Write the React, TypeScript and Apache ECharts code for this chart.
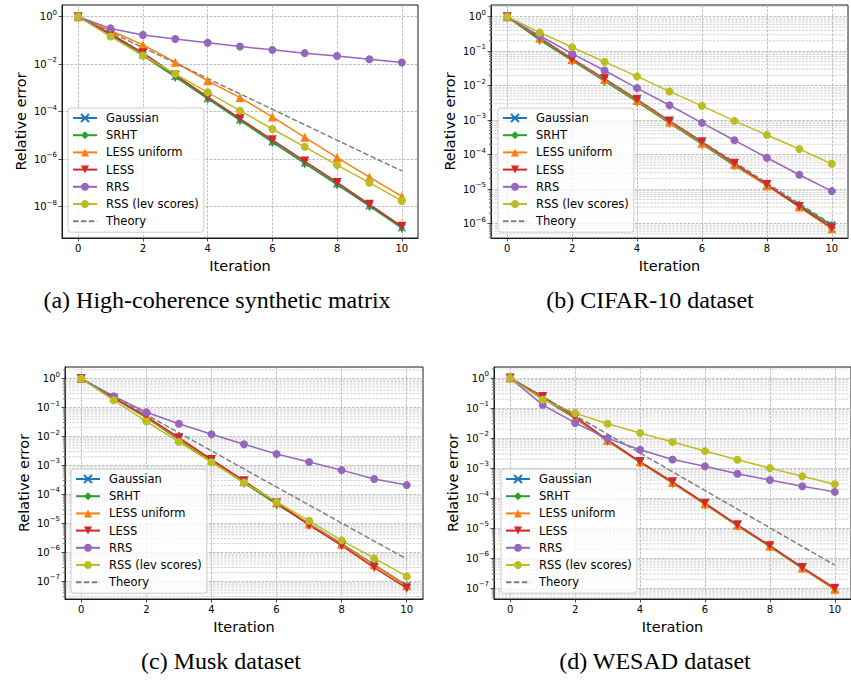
import React, { useEffect, useRef } from 'react';
import * as echarts from 'echarts';

// ---------------- data ----------------
const iterations = [0, 1, 2, 3, 4, 5, 6, 7, 8, 9, 10];
const methodNames = ['Gaussian', 'SRHT', 'LESS uniform', 'LESS', 'RRS', 'RSS (lev scores)', 'Theory'];
const panelCaptions = [
  '(a) High-coherence synthetic matrix',
  '(b) CIFAR-10 dataset',
  '(c) Musk dataset',
  '(d) WESAD dataset',
];
const xTickValues = [0, 2, 4, 6, 8, 10];

// (a) High-coherence synthetic matrix
const aGaussian = [1, 0.18, 0.024, 3.0e-3, 3.6e-4, 4.4e-5, 5.4e-6, 6.8e-7, 8.9e-8, 1.1e-8, 1.3e-9];
const aSRHT = [1, 0.18, 0.023, 2.9e-3, 3.5e-4, 4.3e-5, 5.2e-6, 6.6e-7, 8.5e-8, 1.05e-8, 1.25e-9];
const aLessUniform = [1, 0.26, 0.065, 0.012, 2.0e-3, 3.9e-4, 6.0e-5, 8.3e-6, 1.17e-6, 1.74e-7, 2.7e-8];
const aLess = [1, 0.19, 0.03, 3.5e-3, 4.2e-4, 5.1e-5, 6.5e-6, 8.3e-7, 1.05e-7, 1.26e-8, 1.48e-9];
const aRRS = [1, 0.32, 0.17, 0.115, 0.079, 0.055, 0.04, 0.029, 0.022, 0.016, 0.0117];
const aRSS = [1, 0.145, 0.023, 3.9e-3, 6.5e-4, 1.1e-4, 1.86e-5, 3.3e-6, 5.6e-7, 1.02e-7, 1.74e-8];
const aTheory = [1, 0.224, 0.05, 0.0112, 2.5e-3, 5.6e-4, 1.26e-4, 2.8e-5, 6.3e-6, 1.41e-6, 3.2e-7];

// (b) CIFAR-10
const bGaussian = [1, 0.23, 0.056, 0.0145, 3.6e-3, 8.6e-4, 2.1e-4, 5.1e-5, 1.3e-5, 3.3e-6, 9.0e-7];
const bSRHT = [1, 0.21, 0.053, 0.0135, 3.4e-3, 8.2e-4, 2.0e-4, 4.8e-5, 1.3e-5, 3.4e-6, 8.8e-7];
const bLessUniform = [1, 0.24, 0.057, 0.015, 3.7e-3, 8.8e-4, 2.15e-4, 5.2e-5, 1.25e-5, 3.0e-6, 7.0e-7];
const bLess = [1, 0.245, 0.059, 0.016, 4.0e-3, 9.5e-4, 2.35e-4, 5.6e-5, 1.35e-5, 3.1e-6, 7.6e-7];
const bRRS = [1, 0.28, 0.085, 0.0275, 8.5e-3, 2.7e-3, 8.3e-4, 2.6e-4, 8.1e-5, 2.6e-5, 8.7e-6];
const bRSS = [1, 0.35, 0.13, 0.049, 0.0186, 6.8e-3, 2.6e-3, 9.5e-4, 3.7e-4, 1.45e-4, 5.4e-5];
const bTheory = [1, 0.25, 0.0625, 0.0156, 3.9e-3, 9.8e-4, 2.4e-4, 6.1e-5, 1.5e-5, 3.8e-6, 9.5e-7];

// (c) Musk
const cGaussian = [1, 0.22, 0.046, 8.0e-3, 1.45e-3, 2.6e-4, 4.8e-5, 9.8e-6, 2.0e-6, 3.8e-7, 7.2e-8];
const cSRHT = [1, 0.21, 0.045, 7.8e-3, 1.4e-3, 2.5e-4, 4.6e-5, 9.2e-6, 1.9e-6, 3.6e-7, 6.8e-8];
const cLessUniform = [1, 0.22, 0.048, 8.5e-3, 1.5e-3, 2.9e-4, 5.2e-5, 9.5e-6, 1.9e-6, 3.7e-7, 7.0e-8];
const cLess = [1, 0.21, 0.05, 9.1e-3, 1.62e-3, 2.95e-4, 5.2e-5, 8.7e-6, 1.7e-6, 3.0e-7, 5.8e-8];
const cRRS = [1, 0.245, 0.069, 0.0275, 0.012, 5.4e-3, 2.5e-3, 1.32e-3, 6.9e-4, 3.4e-4, 2.1e-4];
const cRSS = [1, 0.178, 0.033, 6.5e-3, 1.29e-3, 2.6e-4, 5.5e-5, 1.23e-5, 2.6e-6, 6.3e-7, 1.48e-7];
const cTheory = [1, 0.238, 0.0567, 0.0135, 3.2e-3, 7.6e-4, 1.8e-4, 4.3e-5, 1.03e-5, 2.45e-6, 5.9e-7];

// (d) WESAD
const dGaussian = [1, 0.22, 0.047, 8.2e-3, 1.6e-3, 3.3e-4, 6.5e-5, 1.25e-5, 2.5e-6, 4.7e-7, 9.4e-8];
const dSRHT = [1, 0.21, 0.046, 8.0e-3, 1.55e-3, 3.2e-4, 6.2e-5, 1.2e-5, 2.4e-6, 4.6e-7, 9.0e-8];
const dLessUniform = [1, 0.23, 0.048, 8.3e-3, 1.6e-3, 3.3e-4, 6.4e-5, 1.25e-5, 2.5e-6, 4.7e-7, 9.2e-8];
const dLess = [1, 0.245, 0.052, 8.7e-3, 1.66e-3, 3.5e-4, 6.8e-5, 1.29e-5, 2.6e-6, 4.9e-7, 1.0e-7];
const dRRS = [1, 0.129, 0.032, 9.8e-3, 4.1e-3, 1.95e-3, 1.15e-3, 6.5e-4, 4.0e-4, 2.5e-4, 1.62e-4];
const dRSS = [1, 0.19, 0.068, 0.03, 0.0148, 7.4e-3, 3.7e-3, 1.9e-3, 1.0e-3, 5.4e-4, 2.9e-4];
const dTheory = [1, 0.238, 0.0567, 0.0135, 3.2e-3, 7.6e-4, 1.8e-4, 4.3e-5, 1.03e-5, 2.45e-6, 5.9e-7];

// y-axis ranges (log10 of relative error) and major tick exponents
const yRangeA = [-9.32, 0.49];
const yRangeB = [-6.42, 0.34];
const yRangeC = [-7.61, 0.4];
const yRangeD = [-7.36, 0.37];
const yTicksA = [-8, -6, -4, -2, 0];
const yTicksB = [-6, -5, -4, -3, -2, -1, 0];
const yTicksC = [-7, -6, -5, -4, -3, -2, -1, 0];
const yTicksD = [-7, -6, -5, -4, -3, -2, -1, 0];

// ---------------- styling ----------------
const methodColors = ['#1f77b4', '#2ca02c', '#ff7f0e', '#d62728', '#9467bd', '#bcbd22', '#808080'];
const methodSymbols = ['path://M0,0L10,10M0,10L10,0', 'diamond', 'triangle', 'triangle', 'circle', 'circle', 'none'];
const methodSymbolSizes: any[] = [7, [6, 10], 9, 9, 8, 8, 0];
const methodSymbolRotate = [0, 0, 0, 180, 0, 0, 0];

const gridRects = [
  { left: 62, top: 5, width: 356, height: 233 },
  { left: 491, top: 5, width: 357, height: 233 },
  { left: 65, top: 367, width: 358, height: 232 },
  { left: 494, top: 367, width: 358, height: 232 },
];
const legendPos = [
  { left: 68, top: 108 },
  { left: 498, top: 108 },
  { left: 71, top: 469 },
  { left: 501, top: 469 },
];
const captionPos = [
  { x: 217, y: 300 },
  { x: 650, y: 300 },
  { x: 221, y: 661 },
  { x: 655, y: 661 },
];

const X_MIN = -0.5;
const X_MAX = 10.5;

function logLabel(v: number): string {
  const r = Math.round(v);
  if (Math.abs(v - r) > 1e-6) return '';
  const exp = r < 0 ? '\u2212' + String(-r) : String(r);
  return '{b|10}{s|' + exp + '}';
}

function buildOption() {
  const panels = [
    { series: [aGaussian, aSRHT, aLessUniform, aLess, aRRS, aRSS, aTheory], range: yRangeA, ticks: yTicksA, step: 2, minor: false },
    { series: [bGaussian, bSRHT, bLessUniform, bLess, bRRS, bRSS, bTheory], range: yRangeB, ticks: yTicksB, step: 1, minor: true },
    { series: [cGaussian, cSRHT, cLessUniform, cLess, cRRS, cRSS, cTheory], range: yRangeC, ticks: yTicksC, step: 1, minor: true },
    { series: [dGaussian, dSRHT, dLessUniform, dLess, dRRS, dRSS, dTheory], range: yRangeD, ticks: yTicksD, step: 1, minor: true },
  ];

  const grid: any[] = [];
  const xAxis: any[] = [];
  const yAxis: any[] = [];
  const series: any[] = [];
  const legend: any[] = [];
  const graphic: any[] = [];

  const font = 'DejaVu Sans';
  const tickColor = '#222';
  const gridLine = { show: true, lineStyle: { color: '#b0b0b0', width: 0.8, type: [2.8, 1.3] } };

  panels.forEach((p, i) => {
    grid.push({
      ...gridRects[i],
      show: true,
      borderColor: '#1a1a1a',
      borderWidth: 1,
      backgroundColor: 'transparent',
      containLabel: false,
    });
    xAxis.push({
      type: 'value',
      gridIndex: i,
      min: X_MIN,
      max: X_MAX,
      minInterval: 2,
      maxInterval: 2,
      name: 'Iteration',
      nameLocation: 'middle',
      nameGap: 20,
      nameTextStyle: { fontFamily: font, fontSize: 14.5, color: '#000' },
      axisLine: { show: true, onZero: false, lineStyle: { color: '#1a1a1a', width: 1 } },
      axisTick: { show: true, length: 3.5, customValues: xTickValues, lineStyle: { color: tickColor, width: 0.8 } },
      axisLabel: {
        show: true,
        customValues: xTickValues,
        margin: 5,
        fontFamily: font,
        fontSize: 10,
        color: '#000',
        formatter: (v: number) => (Math.abs(v - Math.round(v)) < 1e-6 ? String(Math.round(v)) : ''),
      },
      splitLine: gridLine,
    });
    yAxis.push({
      type: 'value',
      gridIndex: i,
      min: p.range[0],
      max: p.range[1],
      minInterval: p.step,
      maxInterval: p.step,
      name: 'Relative error',
      nameLocation: 'middle',
      nameGap: 34,
      nameTextStyle: { fontFamily: font, fontSize: 14.5, color: '#000' },
      axisLine: { show: true, onZero: false, lineStyle: { color: '#1a1a1a', width: 1 } },
      axisTick: { show: true, length: 3.5, customValues: p.ticks, lineStyle: { color: tickColor, width: 0.8 } },
      axisLabel: {
        show: true,
        customValues: p.ticks,
        margin: 5,
        fontFamily: font,
        color: '#000',
        formatter: logLabel,
        rich: {
          b: { fontFamily: font, fontSize: 10, lineHeight: 15, color: '#000' },
          s: { fontFamily: font, fontSize: 7, lineHeight: 8, verticalAlign: 'top', color: '#000' },
        },
      },
      splitLine: gridLine,
    });

    if (p.minor) {
      const minorVals: number[][] = [];
      for (let e = Math.floor(p.range[0]); e <= Math.ceil(p.range[1]); e++) {
        for (let k = 2; k <= 9; k++) {
          const lv = e + Math.log10(k);
          if (lv > p.range[0] && lv < p.range[1]) minorVals.push([X_MIN, lv]);
        }
      }
      series.push({
        type: 'custom',
        xAxisIndex: i,
        yAxisIndex: i,
        silent: true,
        clip: false,
        z: 1,
        data: minorVals,
        renderItem: (params: any, api: any) => {
          const y = api.value(1);
          const a = api.coord([X_MIN, y]);
          const b = api.coord([X_MAX, y]);
          return {
            type: 'group',
            children: [
              {
                type: 'line',
                shape: { x1: a[0], y1: a[1], x2: b[0], y2: b[1] },
                style: { stroke: '#bdbdbd', lineWidth: 0.7, lineDash: [2.5, 1.2] },
              },
              {
                type: 'line',
                shape: { x1: a[0] - 2.2, y1: a[1], x2: a[0], y2: a[1] },
                style: { stroke: tickColor, lineWidth: 0.6 },
              },
            ],
          };
        },
      });
    }

    p.series.forEach((vals, m) => {
      const color = methodColors[m];
      const isTheory = m === 6;
      series.push({
        type: 'line',
        name: methodNames[m],
        xAxisIndex: i,
        yAxisIndex: i,
        data: iterations.map((it, j) => [it, Math.log10(vals[j])]),
        symbol: methodSymbols[m],
        symbolSize: methodSymbolSizes[m],
        symbolRotate: methodSymbolRotate[m],
        showSymbol: !isTheory,
        lineStyle: {
          color,
          width: 1.5,
          type: isTheory ? [5.5, 2.4] : 'solid',
        },
        itemStyle: isTheory
          ? { color: 'rgba(0,0,0,0)', borderWidth: 0 }
          : { color, borderColor: color, borderWidth: m === 0 ? 1.4 : 0 },
        emphasis: { disabled: true },
        silent: true,
        z: 3,
      });
    });

    legend.push({
      orient: 'vertical',
      left: legendPos[i].left,
      top: legendPos[i].top,
      data: methodNames,
      itemWidth: 24,
      itemHeight: 10,
      itemGap: 3.2,
      padding: [3, 5, 4, 4],
      backgroundColor: 'rgba(255,255,255,0.8)',
      borderColor: '#cccccc',
      borderWidth: 1,
      borderRadius: 3,
      selectedMode: false,
      textStyle: { fontFamily: font, fontSize: 11.5, color: '#000', lineHeight: 14, padding: [0, 0, 0, 4] },
      z: 10,
    });

    graphic.push({
      type: 'text',
      x: captionPos[i].x,
      y: captionPos[i].y,
      style: {
        text: panelCaptions[i],
        fontFamily: 'Liberation Serif',
        fontSize: 24,
        fill: '#000',
        align: 'center',
        verticalAlign: 'middle',
      },
    });
  });

  return {
    animation: false,
    backgroundColor: '#ffffff',
    grid,
    xAxis,
    yAxis,
    series,
    legend,
    graphic,
  };
}

export default function App() {
  const ref = useRef<HTMLDivElement>(null);
  useEffect(() => {
    if (!ref.current) return;
    const chart = echarts.init(ref.current, undefined, { renderer: 'svg' });
    chart.setOption(buildOption() as any);
    return () => chart.dispose();
  }, []);
  return (
    <div
      ref={ref}
      style={{ position: 'fixed', left: 0, top: 0, width: 851, height: 683, background: '#fff' }}
    />
  );
}
